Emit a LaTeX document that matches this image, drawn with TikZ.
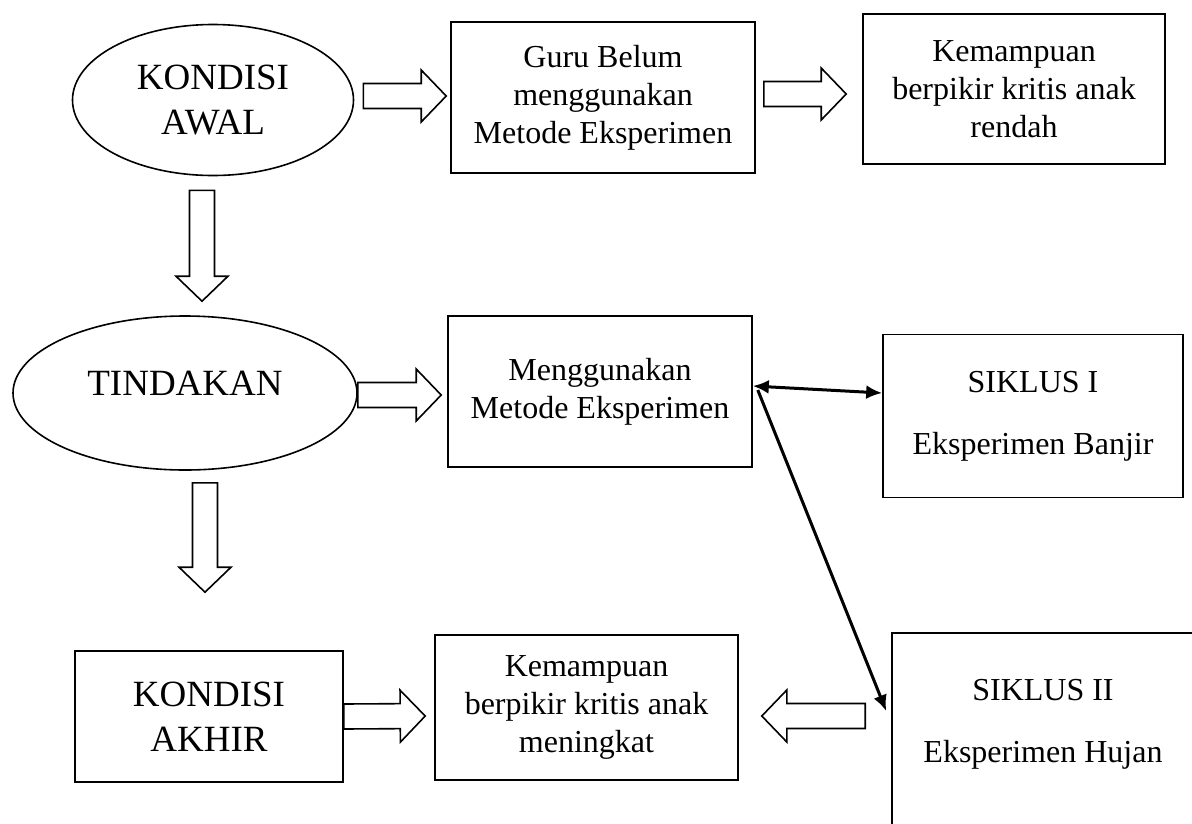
\documentclass[tikz,border=0pt]{standalone}
\usepackage{fontspec}
\setmainfont{Liberation Serif}
\usetikzlibrary{shapes.geometric, arrows.meta, calc}
\newcommand\hurufbesar{\fontsize{37}{45}\selectfont}
\newcommand\hurufkecil{\fontsize{32}{38}\selectfont}
\tikzset{
  fat/.style={draw, line width=1.6pt, fill=white, to path={
    let \p1=($(\tikztotarget)!25pt!(\tikztostart)$) in
    ($(\tikztostart)!12.5pt!90:(\tikztotarget)$) -- ($(\p1)!12.5pt!-90:(\tikztostart)$)
    -- ($(\p1)!26pt!-90:(\tikztostart)$) -- (\tikztotarget)
    -- ($(\p1)!26pt!90:(\tikztostart)$) -- ($(\p1)!12.5pt!90:(\tikztostart)$)
    -- ($(\tikztostart)!12.5pt!-90:(\tikztotarget)$) -- cycle}}
}

\begin{document}
\begin{tikzpicture}[x=1pt, y=-1pt, >={Latex[length=16pt,width=14pt]},
  oval/.style={ellipse, draw, line width=1.6pt, inner sep=0pt, align=center, font=\hurufbesar},
  kotak/.style={rectangle, draw, line width=1.6pt, inner sep=0pt, align=center, font=\hurufkecil},
  tipis/.style={line width=3pt}]
	\clip (0,0) rectangle (1192,823);
	\node[oval, minimum width=281pt, minimum height=151pt] (awal) at (213,100) {KONDISI\\AWAL};
	\node[kotak, minimum width=304pt, minimum height=151pt] (guru) at (603,97.5) {Guru Belum\\menggunakan\\Metode Eksperimen};
	\node[kotak, minimum width=302pt, minimum height=150pt] (rendah) at (1014,89) {Kemampuan\\berpikir kritis anak\\rendah};
	\node[oval, minimum width=344pt, minimum height=154pt] (tindakan) at (185,393) {TINDAKAN\\[-25pt]\mbox{}};
	\node[kotak, minimum width=304pt, minimum height=151pt] (metode) at (600,391.5) {Menggunakan\\Metode Eksperimen};
	\node[kotak, minimum width=300pt, minimum height=163pt] (siklus1) at (1033,416) {SIKLUS I\\[24pt]Eksperimen Banjir};
	\node[kotak, font=\hurufbesar, minimum width=268pt, minimum height=131pt] (akhir) at (209,716.5) {KONDISI\\AKHIR};
	\node[kotak, minimum width=303pt, minimum height=145pt] (meningkat) at (586.5,707.5) {Kemampuan\\berpikir kritis anak\\meningkat};
	\node[kotak, minimum width=302pt, minimum height=220pt] (siklus2) at (1043,743) {SIKLUS II\\[24pt]Eksperimen Hujan\\[6pt]\mbox{}};

	% panah besar
	\draw[fat] ([xshift=9pt,yshift=4pt]awal.east) to ([xshift=-4pt,yshift=1.5pt]guru.west);
	\draw[fat] ([xshift=8pt,yshift=3.5pt]guru.east) to ([xshift=-16pt,yshift=-5pt]rendah.west);
	\draw[fat] ([yshift=-2pt]tindakan.east) to ([xshift=-6pt,yshift=-3.5pt]metode.west);
	\draw[fat] (akhir.east) to ([xshift=-9pt,yshift=-8.5pt]meningkat.west);
	\draw[fat] ([xshift=-26pt,yshift=27pt]siklus2.west) to ([xshift=23pt,yshift=-8.5pt]meningkat.east);
	\draw[fat] ([xshift=-11pt,yshift=-14pt]awal.south) to ([xshift=17pt,yshift=14pt]tindakan.north);
	\draw[fat] ([xshift=20pt,yshift=-12pt]tindakan.south) to ([xshift=-4pt,yshift=58pt]akhir.north);

	% panah tipis
	\draw[tipis, <->] ([yshift=5.5pt]metode.east) -- ([yshift=23pt]siklus1.west);
	\draw[tipis, ->] ([xshift=5pt,yshift=1.5pt]metode.east) -- ([xshift=-5pt,yshift=32pt]siklus2.west);
\end{tikzpicture}
\end{document}
